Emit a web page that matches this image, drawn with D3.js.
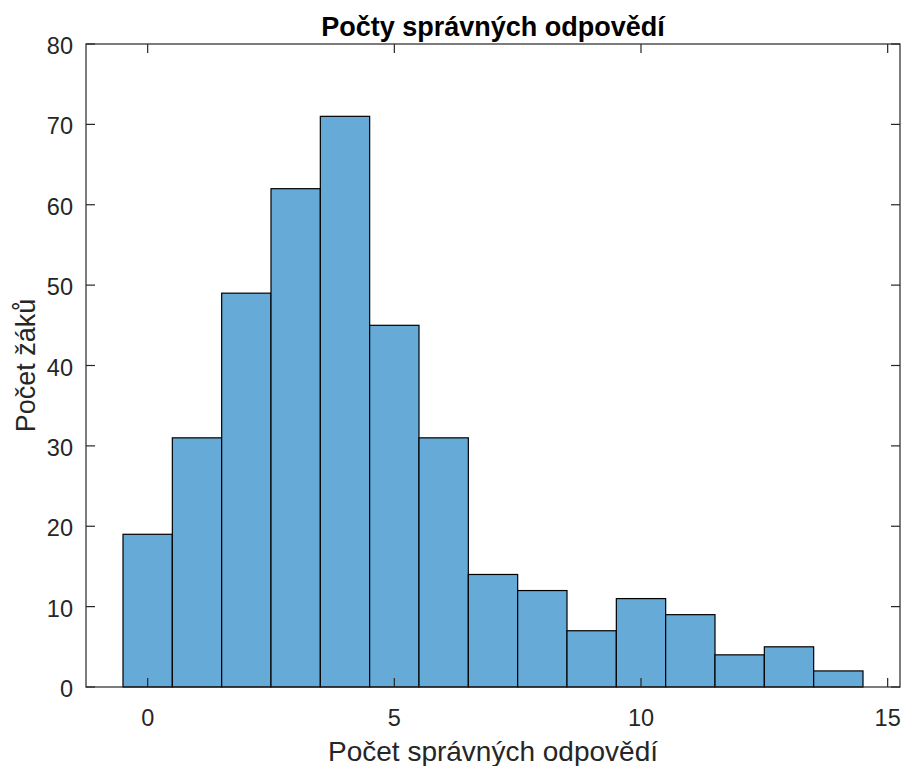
<!DOCTYPE html>
<html>
<head>
<meta charset="utf-8">
<script src="https://cdn.jsdelivr.net/npm/d3@7"></script>
<style>
  body { margin: 0; background: #fff; }
  svg text { font-family: "Liberation Sans", Arial, sans-serif; fill: #262626; }
</style>
</head>
<body>
<svg id="chart" width="902" height="766"></svg>
<script>
// bin centres (edges at +-0.5) and counts
const binCenters = [0, 1, 2, 3, 4, 5, 6, 7, 8, 9, 10, 11, 12, 13, 14]
const counts = [19, 31, 49, 62, 71, 45, 31, 14, 12, 7, 11, 9, 4, 5, 2]
const xTicks = [0, 5, 10, 15]
const yTicks = [0, 10, 20, 30, 40, 50, 60, 70, 80]

const title = 'Počty správných odpovědí'
const xLabel = 'Počet správných odpovědí'
const yLabel = 'Počet žáků'

const svg = d3.select('#chart')

const plotL = 86, plotR = 900, plotT = 44, plotB = 687
const tickLen = 9
const axisColor = '#262626'

let x = d3.scaleLinear()
.domain([-1.25, 15.25])
.range([plotL, plotR])

let y = d3.scaleLinear()
.domain([0, 80])
.range([plotB, plotT])

// bars
svg.append('g')
.selectAll('rect')
.data(binCenters)
.enter()
.append('rect')
.attr('x', d => x(d - 0.5))
.attr('y', (d, i) => y(counts[i]))
.attr('width', d => x(d + 0.5) - x(d - 0.5))
.attr('height', (d, i) => y(0) - y(counts[i]))
.attr('fill', 'rgb(102,170,215)')
.attr('stroke', '#000')
.attr('stroke-width', 1.2)

// box + ticks
const g = svg.append('g')
.attr('stroke', axisColor)
.attr('stroke-width', 1.2)
.attr('fill', 'none')

g.append('rect')
.attr('x', plotL).attr('y', plotT)
.attr('width', plotR - plotL).attr('height', plotB - plotT)

xTicks.forEach(t => {
	g.append('line').attr('x1', x(t)).attr('x2', x(t)).attr('y1', plotB).attr('y2', plotB - tickLen)
	g.append('line').attr('x1', x(t)).attr('x2', x(t)).attr('y1', plotT).attr('y2', plotT + tickLen)
})
yTicks.forEach(t => {
	g.append('line').attr('x1', plotL).attr('x2', plotL + tickLen).attr('y1', y(t)).attr('y2', y(t))
	g.append('line').attr('x1', plotR).attr('x2', plotR - tickLen).attr('y1', y(t)).attr('y2', y(t))
})

// tick labels
svg.append('g')
.selectAll('text')
.data(xTicks)
.enter()
.append('text')
.attr('x', d => x(d))
.attr('y', 726)
.attr('text-anchor', 'middle')
.style('font-size', '23.5px')
.text(d => d)

svg.append('g')
.selectAll('text')
.data(yTicks)
.enter()
.append('text')
.attr('x', 73)
.attr('y', d => y(d) + 10)
.attr('text-anchor', 'end')
.style('font-size', '23.5px')
.text(d => d)

// labels
svg.append('text')
.attr('x', (plotL + plotR) / 2)
.attr('y', 36)
.attr('text-anchor', 'middle')
.style('font-size', '27px')
.style('font-weight', 'bold')
.style('fill', '#000')
.text(title)

svg.append('text')
.attr('x', (plotL + plotR) / 2)
.attr('y', 761)
.attr('text-anchor', 'middle')
.style('font-size', '28px')
.text(xLabel)

svg.append('text')
.attr('transform', `translate(35, ${(plotT + plotB) / 2}) rotate(-90)`)
.attr('text-anchor', 'middle')
.style('font-size', '27px')
.text(yLabel)
</script>
</body>
</html>
